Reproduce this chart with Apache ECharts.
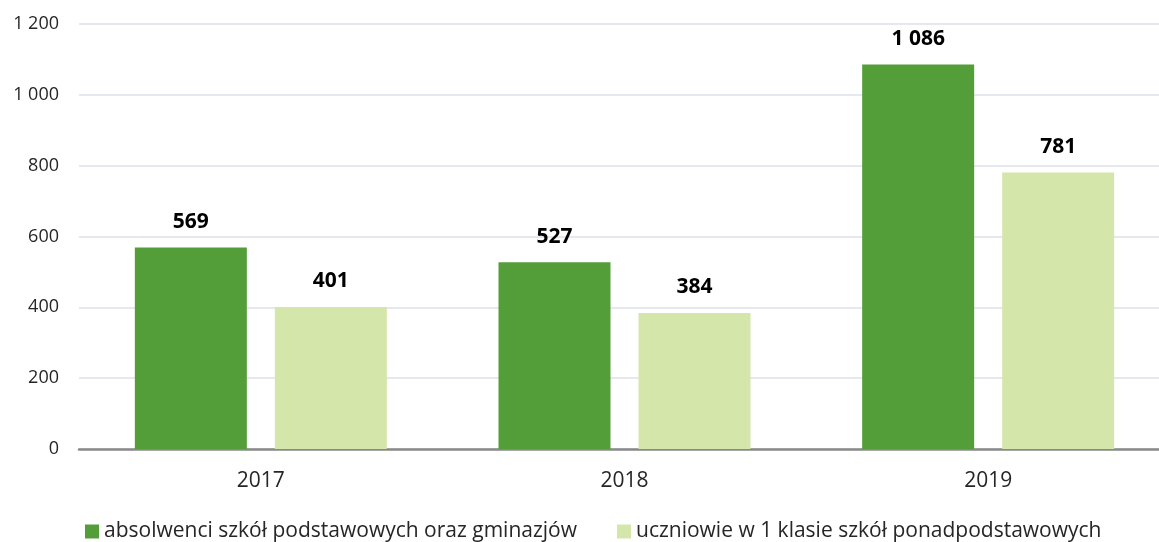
<!DOCTYPE html>
<html>
<head>
<meta charset="utf-8">
<script src="https://cdn.jsdelivr.net/npm/echarts@6/dist/echarts.min.js"></script>
<style>
  html, body { margin: 0; padding: 0; background: #fff; overflow: hidden; }
  /* plot area runs slightly past the right edge of the visible page */
  #chart { width: 1170px; height: 542px; }
</style>
</head>
<body>
<div id="chart"></div>
<script>
// Years on the category axis
const years = ['2017', '2018', '2019'];

// Series names (legend)
const seriesNames = [
  'absolwenci szkół podstawowych oraz gminazjów',
  'uczniowie w 1 klasie szkół ponadpodstawowych'
];

// Values per year
const graduates = [569, 527, 1086];
const firstClass = [401, 384, 781];

// Value axis range
const yMin = 0;
const yMax = 1200;
const yStep = 200;

const colors = ['#549E39', '#D4E6AA'];
const font = '"Open Sans", "Noto Sans", sans-serif';

// Thousands separated by a space, e.g. 1 086
function fmt(v) {
  return String(v).replace(/\B(?=(\d{3})+(?!\d))/g, ' ');
}

const chart = echarts.init(document.getElementById('chart'));

const makeSeries = (name, data, color) => ({
  name: name,
  type: 'bar',
  data: data,
  barWidth: 112,
  barGap: '25%',
  itemStyle: { color: color },
  label: {
    show: true,
    position: 'top',
    distance: 15,
    formatter: p => fmt(p.value),
    fontFamily: font,
    fontWeight: 'bold',
    fontSize: 21,
    color: '#000'
  }
});

chart.setOption({
  animation: false,
  textStyle: { fontFamily: font },
  grid: { left: 79, right: 0, top: 24, bottom: 93, containLabel: false },
  legend: {
    top: 516,
    left: 80,
    itemWidth: 14,
    itemHeight: 14,
    itemGap: 40,
    icon: 'rect',
    textStyle: { fontFamily: font, fontSize: 21, color: '#262626' },
    data: seriesNames
  },
  xAxis: {
    type: 'category',
    data: years,
    axisLine: { lineStyle: { color: '#898989', width: 2.5 } },
    axisTick: { show: false },
    axisLabel: { fontFamily: font, fontSize: 21, color: '#262626', margin: 22 }
  },
  yAxis: {
    type: 'value',
    min: yMin,
    max: yMax,
    interval: yStep,
    axisLine: { show: false },
    axisTick: { show: false },
    splitLine: { lineStyle: { color: '#DCE0E8', width: 1.5 } },
    axisLabel: {
      fontFamily: font,
      fontSize: 18,
      color: '#262626',
      margin: 20,
      formatter: v => fmt(v)
    }
  },
  series: [
    makeSeries(seriesNames[0], graduates, colors[0]),
    makeSeries(seriesNames[1], firstClass, colors[1])
  ]
});
</script>
</body>
</html>
